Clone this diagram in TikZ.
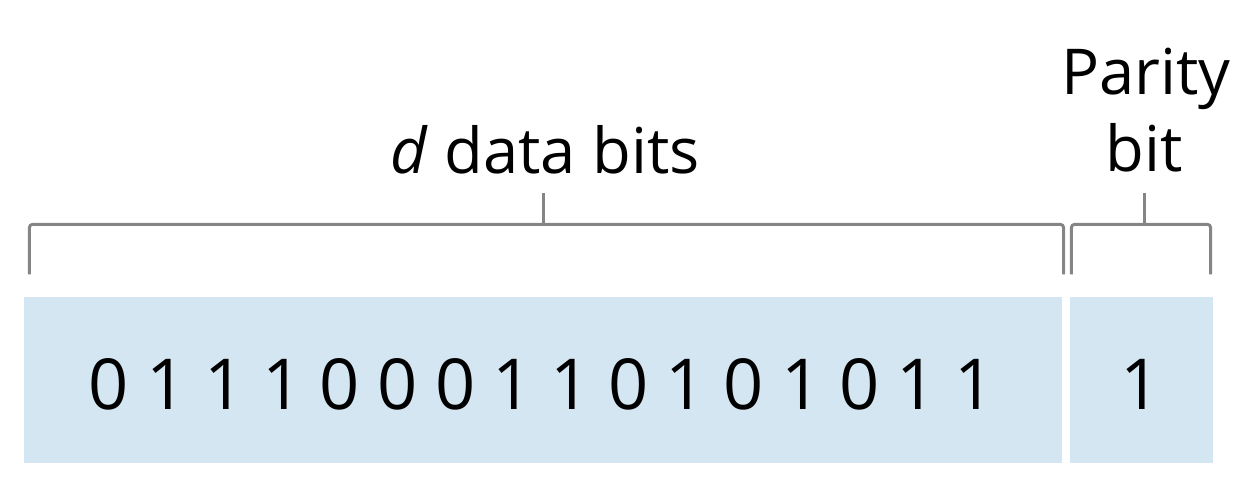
\documentclass[tikz,border=0pt]{standalone}
\usepackage{fontspec}
\setmainfont{Open Sans}
\usetikzlibrary{positioning}
\usetikzlibrary{calc}
\definecolor{bitfill}{HTML}{D4E6F1}
\colorlet{bracketcolor}{black!48}
\tikzstyle{bitbox}=[draw=none, fill=bitfill, minimum height=16.6mm, inner sep=0pt]
\tikzstyle{bitlabel}=[anchor=base, inner sep=0pt, font=\fontsize{20}{24}\selectfont]
\tikzstyle{fieldlabel}=[anchor=base, inner sep=0pt, align=center, font=\fontsize{18}{22}\selectfont]
\tikzstyle{bracket}=[bracketcolor, line width=0.85pt, rounded corners=1pt]

\begin{document}
\begin{tikzpicture}
    \useasboundingbox (0, 0) rectangle (12.56, 4.94);

    \node[bitbox, minimum width=103.8mm] at (5.43, 1.14) (dataBox) {};
    \node[bitbox, minimum width=14.3mm] at (11.415, 1.14) (parityBox) {};

    % data bits
    \foreach \b [count=\i from 0] in {0,1,1,1,0,0,0,1,1,0,1,0,1,0,1,1}
        \node[bitlabel] at ({1.09 + 0.577*\i}, 0.84) (bit\i) {\b};
    \node[bitlabel] at (11.41, 0.84) (parityBit) {1};

    % labels
    \node[fieldlabel] at (5.45, 3.20) (dataLabel) {\textit{d} data bits};
    \node[fieldlabel] at (11.46, 3.99) (parityLabel) {Parity};
    \node[fieldlabel] at (11.44, 3.22) (parityLabelB) {bit};

    % brackets
    \coordinate (dataTick) at (5.43, 3.01);
    \coordinate (parityTick) at (11.44, 3.01);
    \draw[bracket] ($(dataBox.north west) + (0.06, 0.22)$) to
        ($(dataBox.north west) + (0.06, 0.72)$) to
        ($(dataBox.north east) + (0.01, 0.72)$) to
        ($(dataBox.north east) + (0.01, 0.22)$);
    \draw[bracket] (dataTick) -- (dataTick |- 0, 2.69);
    \draw[bracket] ($(parityBox.north west) + (0.02, 0.22)$) to
        ($(parityBox.north west) + (0.02, 0.72)$) to
        ($(parityBox.north east) + (-0.03, 0.72)$) to
        ($(parityBox.north east) + (-0.03, 0.22)$);
    \draw[bracket] (parityTick) -- (parityTick |- 0, 2.69);
\end{tikzpicture}
\end{document}
